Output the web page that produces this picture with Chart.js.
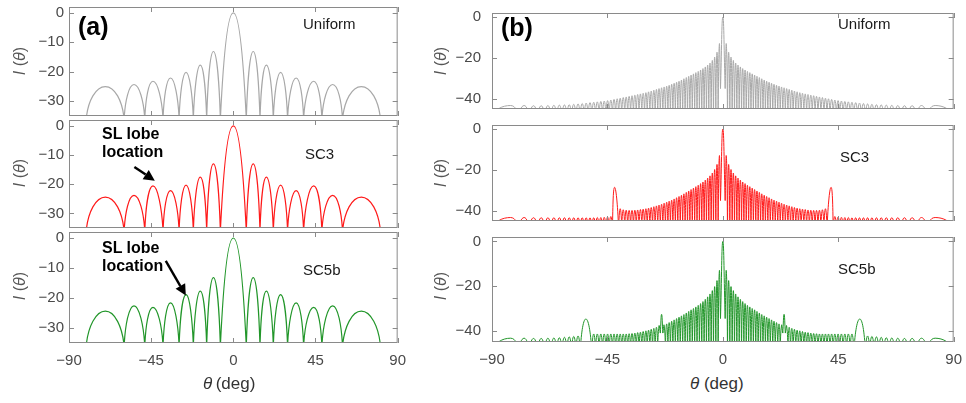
<!DOCTYPE html>
<html>
<head>
<meta charset="utf-8">
<script src="https://cdn.jsdelivr.net/npm/chart.js@4.4.1/dist/chart.umd.min.js"></script>
<style>
  body { margin: 0; background: #fff; }
  #wrap { position: relative; width: 966px; height: 403px; overflow: hidden; font-family: "Liberation Sans", Arial, sans-serif; }
  canvas { position: absolute; }
  .t { position: absolute; line-height: 1; white-space: nowrap; transform: translateY(-50%); color: #1a1a1a; }
  .ylab { position: absolute; line-height: 1; white-space: nowrap; transform: translate(-50%, -50%) rotate(-90deg); font-size: 16px; color: #555; }
</style>
</head>
<body>
<div id="wrap"></div>
<script>
// ---- panel (a): coarse array. angles in deg, positive side only (pattern is symmetric)
// index 0 = main lobe, lobe k sits between null k-1 and null k
const aNullAngles = [7.1, 14.6, 21.9, 29.7, 38.5, 48.5, 59.8, 80.6];
const aPeakAngles = [0, 10.9, 18.1, 25.9, 34.4, 44.0, 54.4, 70.1];
const aUniformDb = [0, -13.1, -17.7, -20.2, -22.1, -23.2, -24.3, -25.0];
const aSc3Db     = [0, -13.0, -17.6, -20.3, -22.2, -20.6, -23.8, -24.4];
const aSc5bDb    = [0, -13.2, -17.7, -18.9, -21.6, -23.1, -22.6, -24.4];

// ---- panel (b): large array
const bNullAngles = [0.91, 1.82, 2.73, 3.64, 4.55, 5.47, 6.38, 7.30, 8.21, 9.13,
  10.06, 10.98, 11.91, 12.84, 13.77, 14.71, 15.66, 16.60, 17.55, 18.51,
  19.47, 20.44, 21.41, 22.39, 23.38, 24.37, 25.38, 26.39, 27.41, 28.44,
  29.48, 30.53, 31.59, 32.66, 33.75, 34.85, 35.97, 37.10, 38.25, 39.42,
  40.61, 41.81, 43.04, 44.30, 45.58, 46.90, 48.25, 49.64, 51.06, 52.53,
  54.05, 55.63, 57.28, 59.00, 60.81, 62.73, 64.79, 67.01, 69.47, 72.25,
  75.52, 79.79, 90];
const bPeakAngles = [0, 1.36, 2.27, 3.19, 4.10, 5.01, 5.92, 6.84, 7.75, 8.67, 9.59,
  10.52, 11.45, 12.38, 13.31, 14.24, 15.18, 16.13, 17.08, 18.03, 18.99,
  19.95, 20.93, 21.90, 22.89, 23.88, 24.88, 25.88, 26.90, 27.92, 28.96,
  30.00, 31.06, 32.13, 33.21, 34.30, 35.41, 36.53, 37.67, 38.83, 40.01,
  41.20, 42.42, 43.67, 44.94, 46.24, 47.57, 48.94, 50.34, 51.79, 53.28,
  54.83, 56.44, 58.13, 59.89, 61.76, 63.74, 65.88, 68.21, 70.81, 73.81,
  77.47, 82.78];
const bUniformDb = [0, -13.3, -17.2, -19.6, -21.2, -22.5, -23.5, -24.4, -25.2, -25.9, -26.6,
  -27.2, -27.8, -28.4, -29.0, -29.6, -30.2, -30.8, -31.4, -31.9, -32.4,
  -32.9, -33.4, -33.8, -34.2, -34.6, -35.0, -35.4, -35.8, -36.2, -36.6,
  -37.0, -37.3, -37.6, -37.9, -38.2, -38.5, -38.8, -39.1, -39.4, -39.7,
  -40.0, -40.3, -40.6, -40.9, -41.1, -41.3, -41.5, -41.7, -41.9, -42.1,
  -42.3, -42.5, -42.7, -42.9, -43.0, -43.1, -43.2, -43.3, -43.4, -43.4,
  -43.3, -43.3];
const bSc3Db = [0, -13.3, -17.3, -19.8, -21.5, -22.9, -24.0, -25.0, -25.9, -26.7, -27.5,
  -28.2, -28.9, -29.6, -30.3, -31.0, -31.7, -32.4, -33.0, -33.6, -34.2,
  -34.8, -35.3, -35.8, -36.3, -36.8, -37.2, -37.6, -38.0, -38.4, -38.7,
  -39.0, -39.2, -39.4, -39.6, -39.7, -39.8, -39.8, -39.7, -39.5, -39.0,
  -28.5, -28.5, -42.8, -43.1, -43.2, -43.3, -43.3, -43.4, -43.4, -43.4,
  -43.4, -43.4, -43.4, -43.4, -43.4, -43.4, -43.4, -43.4, -43.4, -43.4,
  -43.3, -43.3];
const bSc5bDb = [0, -13.3, -17.5, -20.2, -22.0, -23.5, -24.8, -25.9, -26.9, -27.8, -28.6,
  -29.3, -30.0, -30.6, -31.3, -32.0, -32.7, -33.3, -33.9, -34.5, -35.1,
  -35.7, -36.3, -36.9, -37.5, -32.6, -37.8, -38.4, -38.9, -39.3, -39.7,
  -40.0, -40.3, -40.6, -40.8, -41.0, -41.2, -41.3, -41.4, -41.4, -41.4,
  -41.4, -41.4, -41.4, -41.4, -41.4, -41.4, -41.4, -41.4, -34.7, -34.7,
  -34.7, -42.3, -42.5, -42.7, -42.9, -43.1, -43.2, -43.3, -43.4, -43.4,
  -43.3, -43.3];
// neighbouring lobes that merge into one wide bump: [first lobe, last lobe, angle, dB]
const bSc3Bumps = [[41, 42, 42.2, -28.5]];
const bSc5bBumps = [[49, 51, 53.4, -34.7]];
// nulls that stay above the axis floor: [angle, dB]
const bUniformShallow = [[0.91, -35]];
const bSc3Shallow = [[0.91, -35]];
const bSc5bShallow = [[0.91, -34.5], [23.38, -41], [24.37, -41]];

const xTicks = [-90, -45, 0, 45, 90];
const aYTicks = [0, -10, -20, -30];
const bYTicks = [0, -20, -40];

const DEEP = -90;          // nulls fall far below the visible range
const GRAY = '#a8a8a8', RED = '#ff1a1a', GREEN = '#22962a';
const AXIS = '#8a8a8a', TICKTXT = '#4a4a4a';

Chart.defaults.font.family = '"Liberation Sans", Arial, sans-serif';
const wrap = document.getElementById('wrap');

function sideLobes(nulls, peakAt, peakDb, bumps) {
  const out = [];
  for (let k = 1; k < peakAt.length; k++) {
    const b = bumps.find(m => k >= m[0] && k <= m[1]);
    if (b) {
      if (k === b[0]) out.push({ l: nulls[b[0] - 1], r: nulls[b[1]], at: b[2], db: b[3] });
    } else {
      out.push({ l: nulls[k - 1], r: nulls[k], at: peakAt[k], db: peakDb[k] });
    }
  }
  return out;
}

function pattern(nulls, peakAt, peakDb, bumps, shallow, footDb) {
  const side = sideLobes(nulls, peakAt, peakDb, bumps);
  const pts = [];
  const addNull = x => {
    const s = shallow.find(v => Math.abs(v[0] - Math.abs(x)) < 1e-6);
    if (s) pts.push({ x, y: s[1] }, { x, y: s[1] });
    else pts.push({ x, y: footDb }, { x, y: DEEP }, { x, y: footDb });
  };
  const last = side.length - 1;
  addNull(-side[last].r);
  for (let i = last; i >= 0; i--) {
    pts.push({ x: -side[i].at, y: side[i].db });
    addNull(-side[i].l);
  }
  pts.push({ x: peakAt[0], y: peakDb[0] });
  addNull(side[0].l);
  for (let i = 0; i <= last; i++) {
    pts.push({ x: side[i].at, y: side[i].db });
    addNull(side[i].r);
  }
  return pts;
}

const fmt = v => (v < 0 ? '\u2212' + Math.abs(v) : String(v));

const frame = {
  id: 'frame',
  afterDraw(chart, args, opts) {
    const { ctx, chartArea: a, scales: { x, y } } = chart;
    ctx.save();
    ctx.strokeStyle = AXIS;
    ctx.lineWidth = 1;
    ctx.strokeRect(a.left + 0.5, a.top + 0.5, a.right - a.left - 1, a.bottom - a.top - 1);
    ctx.beginPath();
    xTicks.forEach(v => {
      const px = Math.round(x.getPixelForValue(v)) + 0.5;
      ctx.moveTo(px, a.top); ctx.lineTo(px, a.top + 5);
      ctx.moveTo(px, a.bottom); ctx.lineTo(px, a.bottom - 5);
    });
    opts.yTicks.forEach(v => {
      const py = Math.round(y.getPixelForValue(v)) + 0.5;
      ctx.moveTo(a.left, py); ctx.lineTo(a.left + 5, py);
      ctx.moveTo(a.right, py); ctx.lineTo(a.right - 5, py);
    });
    ctx.stroke();
    if (opts.arrow) {
      const [t0, d0, t1, d1] = opts.arrow;
      const x0 = x.getPixelForValue(t0), y0 = y.getPixelForValue(d0);
      const x1 = x.getPixelForValue(t1), y1 = y.getPixelForValue(d1);
      const ang = Math.atan2(y1 - y0, x1 - x0);
      const hl = 11, hw = 5.5;
      const bx = x1 - hl * Math.cos(ang), by = y1 - hl * Math.sin(ang);
      ctx.strokeStyle = '#000'; ctx.fillStyle = '#000'; ctx.lineWidth = 2.4;
      ctx.beginPath(); ctx.moveTo(x0, y0); ctx.lineTo(bx, by); ctx.stroke();
      ctx.beginPath();
      ctx.moveTo(x1, y1);
      ctx.lineTo(bx + hw * Math.sin(ang), by - hw * Math.cos(ang));
      ctx.lineTo(bx - hw * Math.sin(ang), by + hw * Math.cos(ang));
      ctx.closePath(); ctx.fill();
    }
    ctx.restore();
  }
};

function subplot(o) {
  const padT = 12, padR = 14, xH = o.showX ? 30 : 0, padB = o.showX ? 0 : 12;
  const cv = document.createElement('canvas');
  cv.width = o.yW + o.w + padR;
  cv.height = padT + o.h + padB + xH;
  cv.style.left = (o.left - o.yW) + 'px';
  cv.style.top = (o.top - padT) + 'px';
  wrap.appendChild(cv);
  new Chart(cv, {
    type: 'line',
    data: { datasets: [{
      data: o.data, borderColor: o.color, borderWidth: o.lw, pointRadius: 0,
      tension: 0.5, fill: false, clip: 0
    }] },
    options: {
      responsive: false, animation: false, events: [],
      layout: { padding: { top: padT, right: padR, bottom: padB, left: 0 } },
      elements: { line: { capBezierPoints: false } },
      plugins: { legend: { display: false }, tooltip: { enabled: false },
        frame: { yTicks: o.yTicks, arrow: o.arrow } },
      scales: {
        x: {
          type: 'linear', min: -90, max: 90, display: o.showX,
          afterBuildTicks: s => { s.ticks = xTicks.map(v => ({ value: v })); },
          afterFit: s => { s.height = xH; },
          grid: { display: false, drawTicks: false }, border: { display: false },
          ticks: { padding: 9, color: TICKTXT, font: { size: 15 }, callback: fmt, maxRotation: 0, autoSkip: false }
        },
        y: {
          min: o.min, max: o.max,
          afterBuildTicks: s => { s.ticks = o.yTicks.map(v => ({ value: v })); },
          afterFit: s => { s.width = o.yW; },
          grid: { display: false, drawTicks: false }, border: { display: false },
          ticks: { padding: o.yPad, color: TICKTXT, font: { size: 15 }, callback: fmt }
        }
      }
    },
    plugins: [frame]
  });
}

// panel (a)
const aBase = { left: 69, w: 332, yW: 69, yPad: 5, min: -35, max: 2, yTicks: aYTicks, lw: 1.2 };
subplot({ ...aBase, top: 5, h: 113, color: GRAY,
  data: pattern(aNullAngles, aPeakAngles, aUniformDb, [], [], -36) });
subplot({ ...aBase, top: 118, h: 112, color: RED, arrow: [-54.2, -14.1, -43.0, -18.8],
  data: pattern(aNullAngles, aPeakAngles, aSc3Db, [], [], -36) });
subplot({ ...aBase, top: 230, h: 113, color: GREEN, showX: true, arrow: [-37.0, -7.6, -26.0, -19.2],
  data: pattern(aNullAngles, aPeakAngles, aSc5bDb, [], [], -36) });

// panel (b)
const bBase = { left: 492, w: 465, yW: 72, yPad: 11, min: -45, max: 2, yTicks: bYTicks, lw: 1 };
subplot({ ...bBase, top: 5, h: 112, color: GRAY,
  data: pattern(bNullAngles, bPeakAngles, bUniformDb, [], bUniformShallow, -50) });
subplot({ ...bBase, top: 117, h: 112, color: RED,
  data: pattern(bNullAngles, bPeakAngles, bSc3Db, bSc3Bumps, bSc3Shallow, -50) });
subplot({ ...bBase, top: 229, h: 113, color: GREEN, showX: true,
  data: pattern(bNullAngles, bPeakAngles, bSc5bDb, bSc5bBumps, bSc5bShallow, -50) });

// text overlays
function text(html, x, y, css) {
  const d = document.createElement('div');
  d.className = 't';
  d.innerHTML = html;
  d.style.left = x + 'px';
  d.style.top = y + 'px';
  Object.assign(d.style, css);
  wrap.appendChild(d);
}
function ylab(x, y) {
  const d = document.createElement('div');
  d.className = 'ylab';
  d.innerHTML = '<i>I</i> (<i>&theta;</i>)';
  d.style.left = x + 'px';
  d.style.top = y + 'px';
  wrap.appendChild(d);
}
const big = { fontSize: '25px', fontWeight: 'bold', color: '#000' };
const tag = { fontSize: '15px' };
const note = { fontSize: '16px', fontWeight: 'bold', color: '#000' };
const xt = { fontSize: '17px', color: '#333' };
text('(a)', 78, 26, big);
text('(b)', 501, 27, big);
text('Uniform', 303, 23, tag);
text('SC3', 305, 153, tag);
text('SC5b', 303, 269, tag);
text('Uniform', 838, 23, tag);
text('SC3', 840, 156, tag);
text('SC5b', 838, 268, tag);
text('SL lobe', 102, 134, note);
text('location', 102, 152, note);
text('SL lobe', 102, 248, note);
text('location', 102, 266, note);
text('<i>&theta;</i>&thinsp;(deg)', 203, 383, xt);
text('<i>&theta;</i> (deg)', 690, 383, xt);
[61, 173, 286].forEach(y => { ylab(20, y); ylab(441, y); });
</script>
</body>
</html>
